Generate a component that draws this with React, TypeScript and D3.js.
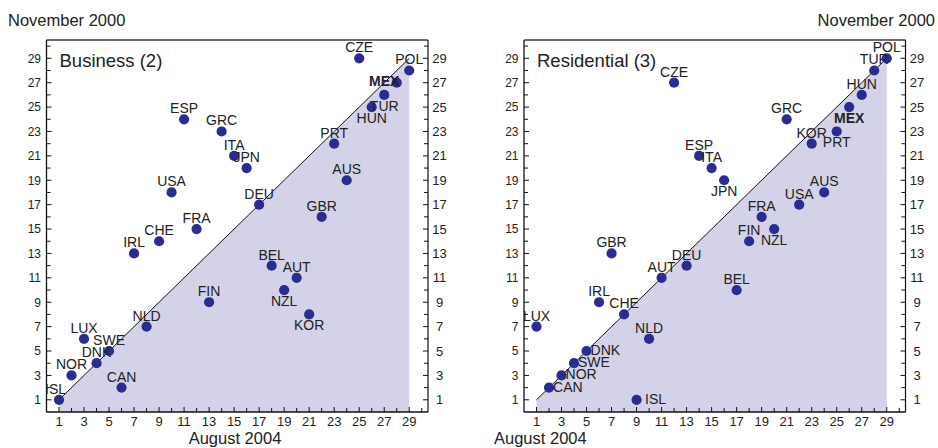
import React from "react";
import * as d3 from "d3";

// OECD broadband price rankings: August 2004 (x) against November 2000 (y)
const businessCountries = ["ISL", "NOR", "LUX", "DNK", "SWE", "CAN", "IRL", "NLD", "CHE", "USA", "ESP", "FRA", "FIN", "GRC", "ITA", "JPN", "DEU", "BEL", "NZL", "AUT", "KOR", "GBR", "PRT", "AUS", "CZE", "HUN", "TUR", "MEX", "POL"];
const businessAug2004 = [1, 2, 3, 4, 5, 6, 7, 8, 9, 10, 11, 12, 13, 14, 15, 16, 17, 18, 19, 20, 21, 22, 23, 24, 25, 26, 27, 28, 29];
const businessNov2000 = [1, 3, 6, 4, 5, 2, 13, 7, 14, 18, 24, 15, 9, 23, 21, 20, 17, 12, 10, 11, 8, 16, 22, 19, 29, 25, 26, 27, 28];

const residentialCountries = ["LUX", "CAN", "NOR", "SWE", "DNK", "IRL", "GBR", "CHE", "ISL", "NLD", "AUT", "CZE", "DEU", "ESP", "ITA", "JPN", "BEL", "FIN", "FRA", "NZL", "GRC", "USA", "KOR", "AUS", "PRT", "MEX", "HUN", "TUR", "POL"];
const residentialAug2004 = [1, 2, 3, 4, 5, 6, 7, 8, 9, 10, 11, 12, 13, 14, 15, 16, 17, 18, 19, 20, 21, 22, 23, 24, 25, 26, 27, 28, 29];
const residentialNov2000 = [7, 2, 3, 4, 5, 9, 13, 8, 1, 6, 11, 27, 12, 21, 20, 19, 10, 14, 16, 15, 24, 17, 22, 18, 23, 25, 26, 28, 29];

const rankTicks = d3.range(1, 31);
const rankTickLabels = d3.range(1, 30, 2);
const highlighted = ["MEX"];

const FONT = "'Liberation Sans', Arial, Helvetica, sans-serif";
const TEXT = "#222";
const DOT = "#2a2d8f";
const FILL = "#d4d2e9";

type Placement = [number, number, "start" | "middle" | "end"];
const ABOVE: Placement = [0, -6, "middle"];
const BELOW: Placement = [0, 16, "middle"];
const RIGHT: Placement = [4, 4, "start"];

const businessPlacement: Record<string, Placement> = {
  ISL: [-3.5, -6, "middle"],
  NZL: BELOW,
  KOR: BELOW,
  HUN: BELOW,
  TUR: BELOW,
  MEX: [-12.5, 3.5, "middle"],
};

const residentialPlacement: Record<string, Placement> = {
  JPN: BELOW,
  NZL: BELOW,
  MEX: BELOW,
  PRT: BELOW,
  DNK: RIGHT,
  SWE: RIGHT,
  NOR: RIGHT,
  CAN: RIGHT,
  ISL: [8.5, 4, "start"],
};

type PanelProps = {
  title: string;
  countries: string[];
  xs: number[];
  ys: number[];
  placement: Record<string, Placement>;
  left: number;
  right: number;
};

const TOP = 40;
const BOTTOM = 412;

function Panel({ title, countries, xs, ys, placement, left, right }: PanelProps) {
  const x = d3.scaleLinear().domain([0, 30.5]).range([left, right]);
  const y = d3.scaleLinear().domain([0, 30.5]).range([BOTTOM, TOP]);
  const [lo, hi] = d3.extent(xs) as [number, number];

  const area = d3
    .area<[number, number]>()
    .x((d) => x(d[0]))
    .y0(y(0))
    .y1((d) => y(d[1]));
  const line = d3
    .line<[number, number]>()
    .x((d) => x(d[0]))
    .y((d) => y(d[1]));
  const diag: [number, number][] = [
    [lo, lo],
    [hi, hi],
  ];

  return (
    <g>
      <path d={area(diag) || ""} fill={FILL} />
      <path d={line(diag) || ""} stroke="#111" strokeWidth={1} fill="none" />

      {/* frame */}
      <line x1={left} x2={right} y1={TOP} y2={TOP} stroke="#6e6e6e" strokeWidth={1.8} />
      <line x1={left} x2={left} y1={TOP} y2={BOTTOM} stroke="#111" strokeWidth={1.3} />
      <line x1={right} x2={right} y1={TOP} y2={BOTTOM} stroke="#111" strokeWidth={1.2} />
      <line x1={left} x2={right} y1={BOTTOM} y2={BOTTOM} stroke="#111" strokeWidth={1.4} />

      {/* ticks, pointing inward */}
      {rankTicks.map((t) => {
        const len = t % 2 === 1 ? 5 : 4;
        return (
          <g key={t} stroke="#111" strokeWidth={1}>
            <line x1={left} x2={left + len} y1={y(t)} y2={y(t)} />
            <line x1={right} x2={right - len} y1={y(t)} y2={y(t)} />
            <line x1={x(t)} x2={x(t)} y1={BOTTOM} y2={BOTTOM - len} />
          </g>
        );
      })}
      {rankTickLabels.map((t) => (
        <g key={t} fill={TEXT} fontFamily={FONT}>
          <text x={left - 5.5} y={y(t) + 4.3} fontSize={12} textAnchor="end">
            {t}
          </text>
          <text x={right + 11.5} y={y(t) + 4.6} fontSize={13} textAnchor="middle">
            {t}
          </text>
          <text x={x(t)} y={426} fontSize={13} textAnchor="middle">
            {t}
          </text>
        </g>
      ))}

      <text x={left + 13} y={66.5} fontSize={18.5} fill={TEXT} fontFamily={FONT}>
        {title}
      </text>

      {countries.map((c, i) => (
        <circle key={c} cx={x(xs[i])} cy={y(ys[i])} r={5.1} fill={DOT} />
      ))}
      {countries.map((c, i) => {
        const [dx, dy, anchor] = placement[c] || ABOVE;
        return (
          <text
            key={c}
            x={x(xs[i]) + dx}
            y={y(ys[i]) + dy}
            textAnchor={anchor}
            fontSize={14}
            fontFamily={FONT}
            fontWeight={highlighted.includes(c) ? "bold" : "normal"}
            fill={TEXT}
          >
            {c}
          </text>
        );
      })}
    </g>
  );
}

export default function App() {
  return (
    <svg
      width={938}
      height={448}
      style={{ position: "absolute", left: 0, top: 0, background: "#fff" }}
    >
      <text x={8} y={26} fontSize={16.5} fill={TEXT} fontFamily={FONT}>
        November 2000
      </text>
      <text x={935} y={26} fontSize={16.5} fill={TEXT} fontFamily={FONT} textAnchor="end">
        November 2000
      </text>

      <Panel
        title="Business (2)"
        countries={businessCountries}
        xs={businessAug2004}
        ys={businessNov2000}
        placement={businessPlacement}
        left={46.5}
        right={428}
      />
      <Panel
        title="Residential (3)"
        countries={residentialCountries}
        xs={residentialAug2004}
        ys={residentialNov2000}
        placement={residentialPlacement}
        left={524}
        right={905.5}
      />

      <text x={235} y={444} fontSize={16.5} fill={TEXT} fontFamily={FONT} textAnchor="middle">
        August 2004
      </text>
      <text x={494} y={444} fontSize={16.5} fill={TEXT} fontFamily={FONT}>
        August 2004
      </text>
    </svg>
  );
}
